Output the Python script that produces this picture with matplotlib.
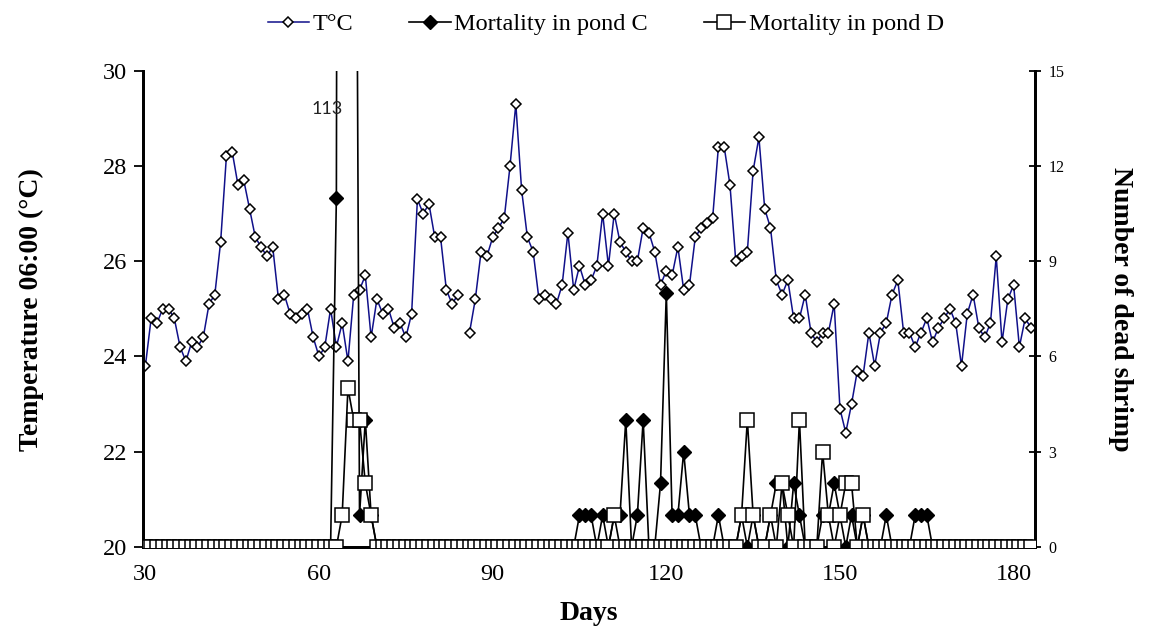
import numpy as np
import matplotlib
matplotlib.use("Agg")
import matplotlib.pyplot as plt

# ---------------- data ----------------
days = list(range(30, 184))

temperature = [
    23.8, 24.8, 24.7, 25.0, 25.0, 24.8, 24.2, 23.9, 24.3, 24.2,   # 30-39
    24.4, 25.1, 25.3, 26.4, 28.2, 28.3, 27.6, 27.7, 27.1, 26.5,   # 40-49
    26.3, 26.1, 26.3, 25.2, 25.3, 24.9, 24.8, 24.9, 25.0, 24.4,   # 50-59
    24.0, 24.2, 25.0, 24.2, 24.7, 23.9, 25.3, 25.4, 25.7, 24.4,   # 60-69
    25.2, 24.9, 25.0, 24.6, 24.7, 24.4, 24.9, 27.3, 27.0, 27.2,   # 70-79
    26.5, 26.5, 25.4, 25.1, 25.3, np.nan, 24.5, 25.2, 26.2, 26.1, # 80-89
    26.5, 26.7, 26.9, 28.0, 29.3, 27.5, 26.5, 26.2, 25.2, 25.3,   # 90-99
    25.2, 25.1, 25.5, 26.6, 25.4, 25.9, 25.5, 25.6, 25.9, 27.0,   # 100-109
    25.9, 27.0, 26.4, 26.2, 26.0, 26.0, 26.7, 26.6, 26.2, 25.5,   # 110-119
    25.8, 25.7, 26.3, 25.4, 25.5, 26.5, 26.7, 26.8, 26.9, 28.4,   # 120-129
    28.4, 27.6, 26.0, 26.1, 26.2, 27.9, 28.6, 27.1, 26.7, 25.6,   # 130-139
    25.3, 25.6, 24.8, 24.8, 25.3, 24.5, 24.3, 24.5, 24.5, 25.1,   # 140-149
    22.9, 22.4, 23.0, 23.7, 23.6, 24.5, 23.8, 24.5, 24.7, 25.3,   # 150-159
    25.6, 24.5, 24.5, 24.2, 24.5, 24.8, 24.3, 24.6, 24.8, 25.0,   # 160-169
    24.7, 23.8, 24.9, 25.3, 24.6, 24.4, 24.7, 26.1, 24.3, 25.2,   # 170-179
    25.5, 24.2, 24.8, 24.6,                                       # 180-183
]

mortality_c = [
    0, 0, 0, 0, 0, 0, 0, 0, 0, 0,        # 30-39
    0, 0, 0, 0, 0, 0, 0, 0, 0, 0,        # 40-49
    0, 0, 0, 0, 0, 0, 0, 0, 0, 0,        # 50-59
    0, 0, 0, 11, 113, 60, 40, 1, 4, 1,   # 60-69
    0, 0, 0, 0, 0, 0, 0, 0, 0, 0,        # 70-79
    0, 0, 0, 0, 0, 0, 0, 0, 0, 0,        # 80-89
    0, 0, 0, 0, 0, 0, 0, 0, 0, 0,        # 90-99
    0, 0, 0, 0, 0, 1, 1, 1, 0, 1,        # 100-109
    0, 1, 1, 4, 0, 1, 4, 0, 0, 2,        # 110-119
    8, 1, 1, 3, 1, 1, 0, 0, 0, 1,        # 120-129
    0, 0, 0, 1, 0, 1, 0, 0, 1, 2,        # 130-139
    2, 0, 2, 1, 0, 0, 0, 1, 1, 2,        # 140-149
    1, 0, 1, 0, 1, 0, 0, 0, 1, 0,        # 150-159
    0, 0, 0, 1, 1, 1, 0, 0, 0, 0,        # 160-169
    0, 0, 0, 0, 0, 0, 0, 0, 0, 0,        # 170-179
    0, 0, 0, 0,                          # 180-183
]

mortality_d = [
    0, 0, 0, 0, 0, 0, 0, 0, 0, 0,        # 30-39
    0, 0, 0, 0, 0, 0, 0, 0, 0, 0,        # 40-49
    0, 0, 0, 0, 0, 0, 0, 0, 0, 0,        # 50-59
    0, 0, 0, 0, 1, 5, 4, 4, 2, 1,        # 60-69
    0, 0, 0, 0, 0, 0, 0, 0, 0, 0,        # 70-79
    0, 0, 0, 0, 0, 0, 0, 0, 0, 0,        # 80-89
    0, 0, 0, 0, 0, 0, 0, 0, 0, 0,        # 90-99
    0, 0, 0, 0, 0, 0, 0, 0, 0, 0,        # 100-109
    0, 1, 0, 0, 0, 0, 0, 0, 0, 0,        # 110-119
    0, 0, 0, 0, 0, 0, 0, 0, 0, 0,        # 120-129
    0, 0, 0, 1, 4, 1, 0, 0, 1, 0,        # 130-139
    2, 1, 0, 4, 0, 0, 0, 3, 1, 0,        # 140-149
    1, 2, 2, 0, 1, 0, 0, 0, 0, 0,        # 150-159
    0, 0, 0, 0, 0, 0, 0, 0, 0, 0,        # 160-169
    0, 0, 0, 0, 0, 0, 0, 0, 0, 0,        # 170-179
    0, 0, 0, 0,                          # 180-183
]

x_ticks = [30, 60, 90, 120, 150, 180]
temp_ticks = [20, 22, 24, 26, 28, 30]
mort_ticks = [0, 3, 6, 9, 12, 15]
annotation_day, annotation_text = 64, "113"

# ---------------- figure ----------------
serif = ["Liberation Serif", "DejaVu Serif"]
plt.rcParams["font.family"] = serif

fig = plt.figure(figsize=(11.49, 6.35), dpi=100)
ax = fig.add_axes([0.1245, 0.1386, 0.7763, 0.7501])
ax2 = ax.twinx()

ax.plot(days, temperature, color="#10108a", lw=1.1, marker="D", ms=5.6,
        mfc="white", mec="black", mew=1.1, label="T°C", zorder=3)

ax2.plot(days, mortality_c, color="black", lw=1.2, marker="D", ms=7.4,
         mfc="black", mec="black", mew=1.0, label="Mortality in pond C", zorder=3)
ax2.plot(days, mortality_d, color="black", lw=1.2, marker="s", ms=9.4,
         mfc="white", mec="black", mew=1.1, label="Mortality in pond D", zorder=4)

ax2.text(annotation_day - 2.6, 13.8, annotation_text, fontsize=13,
         family=["Lato", "DejaVu Sans"], ha="center", va="center", color="#222222")

ax.set_xlim(29.6, 183.7)
ax.set_ylim(20, 30)
ax2.set_ylim(0, 15)

ax.set_xticks(x_ticks)
ax.set_yticks(temp_ticks)
ax2.set_yticks(mort_ticks)

ax.tick_params(axis="x", length=0, labelsize=17.5, pad=12)
ax.tick_params(axis="y", direction="out", length=6.5, width=1.3, labelsize=17.5, pad=5)
ax2.tick_params(axis="y", direction="inout", length=9, width=1.3, labelsize=11.5, pad=5)

for a in (ax, ax2):
    a.spines["top"].set_visible(False)
    a.spines["left"].set_linewidth(2)
    a.spines["right"].set_linewidth(2)
    a.spines["bottom"].set_linewidth(2)

fig.text(0.027, 0.513, "Temperature 06:00 (°C)", rotation=90, ha="center",
         va="center", fontsize=20, fontweight="bold")
fig.text(0.975, 0.513, "Number of dead shrimp", rotation=270, ha="center",
         va="center", fontsize=20, fontweight="bold")
fig.text(0.5125, 0.0236, "Days", ha="center", va="baseline", fontsize=20,
         fontweight="bold")

h1, l1 = ax.get_legend_handles_labels()
h2, l2 = ax2.get_legend_handles_labels()
fig.legend(h1 + h2, l1 + l2, loc="center left", bbox_to_anchor=(0.233, 0.962),
           ncol=3, frameon=False, fontsize=17.5, handlelength=1.7,
           handletextpad=0.15, columnspacing=2.3, numpoints=1,
           borderpad=0, borderaxespad=0)

fig.savefig("out.png", dpi=100)
